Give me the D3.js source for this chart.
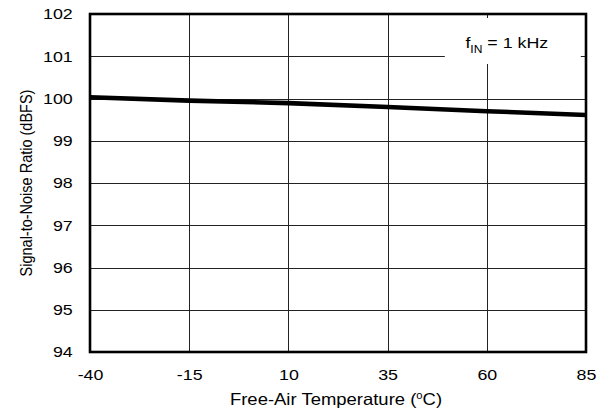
<!DOCTYPE html>
<html>
<head>
<meta charset="utf-8">
<script src="https://cdn.jsdelivr.net/npm/d3@7"></script>
<style>
  body { margin: 0; background: #fff; }
  text { font-family: Arial, "Liberation Sans", sans-serif; fill: #000; }
</style>
</head>
<body>
<div id="chart"></div>
<script>
// data
var temps = [-40, -15, 10, 35, 60, 85];
var snr = [100.03, 99.95, 99.89, 99.80, 99.70, 99.61];
var xTicks = [-40, -15, 10, 35, 60, 85];
var yTicks = [94, 95, 96, 97, 98, 99, 100, 101, 102];

var W = 608, H = 411;
var margin = {top: 14, left: 90, right: 22, bottom: 59};
var width = W - margin.left - margin.right,
    height = H - margin.top - margin.bottom;
var stretch = 1.15; // the original text is a bit wide

var svg = d3.select("#chart").append("svg")
    .attr("width", W).attr("height", H);
var g = svg.append("g")
    .attr("transform", "translate(" + margin.left + "," + margin.top + ")");

var x = d3.scaleLinear().domain([-40, 85]).range([0, width]);
var y = d3.scaleLinear().domain([94, 102]).range([height, 0]);

// grid
g.selectAll(".vgrid").data(xTicks.slice(1, -1)).enter().append("line")
    .attr("x1", d => Math.round(x(d)) + 0.5).attr("x2", d => Math.round(x(d)) + 0.5)
    .attr("y1", 0).attr("y2", height)
    .attr("stroke", "#222").attr("stroke-width", 1);
g.selectAll(".hgrid").data(yTicks.slice(1, -1)).enter().append("line")
    .attr("y1", d => Math.round(y(d)) + 0.5).attr("y2", d => Math.round(y(d)) + 0.5)
    .attr("x1", 0).attr("x2", width)
    .attr("stroke", "#222").attr("stroke-width", 1);

// note box covers the grid
g.append("rect")
    .attr("x", x(60) - 42).attr("y", 4)
    .attr("width", 136).attr("height", 46)
    .attr("fill", "#fff");
var note = g.append("text")
    .attr("transform", "translate(" + (x(60) + 20) + ",34) scale(" + stretch + ",1)")
    .attr("text-anchor", "middle")
    .style("font-size", "15.5px");
note.append("tspan").text("f");
note.append("tspan").attr("dy", 4.5).style("font-size", "10.5px").text("IN");
note.append("tspan").attr("dy", -4.5).text(" = 1 kHz");

// frame
g.append("rect")
    .attr("width", width).attr("height", height)
    .attr("fill", "none").attr("stroke", "#000").attr("stroke-width", 2.6);

// axes
var xAxis = d3.axisBottom(x).tickValues(xTicks).tickSize(0).tickPadding(17)
    .tickFormat(d => String(d));
g.append("g").attr("transform", "translate(0," + height + ")").call(xAxis)
    .call(s => s.select(".domain").remove())
    .selectAll("text")
    .style("font-size", "15.5px")
    .attr("transform", "scale(" + stretch + ",1)")
    .attr("x", 0);

var yAxis = d3.axisLeft(y).tickValues(yTicks).tickSize(0).tickPadding(15)
    .tickFormat(d => String(d));
g.append("g").call(yAxis)
    .call(s => s.select(".domain").remove())
    .selectAll("text")
    .style("font-size", "15.5px")
    .attr("transform", "scale(" + stretch + ",1)");

// series
var line = d3.line().x((d, i) => x(temps[i])).y(d => y(d));
g.append("path").datum(snr)
    .attr("d", line)
    .attr("fill", "none").attr("stroke", "#000").attr("stroke-width", 4.6);

// labels
svg.append("text")
    .attr("transform", "translate(" + (margin.left + width / 2 - 2) + ",405) scale(1.12,1)")
    .attr("text-anchor", "middle").style("font-size", "16.5px")
    .html('Free-Air Temperature (<tspan dy="-6" font-size="10px">o</tspan><tspan dy="6">C)</tspan>');
svg.append("text")
    .attr("transform", "translate(32," + (margin.top + height / 2) + ") rotate(-90) scale(1,1.1)")
    .attr("text-anchor", "middle").style("font-size", "14.5px")
    .text("Signal-to-Noise Ratio (dBFS)");
</script>
</body>
</html>
